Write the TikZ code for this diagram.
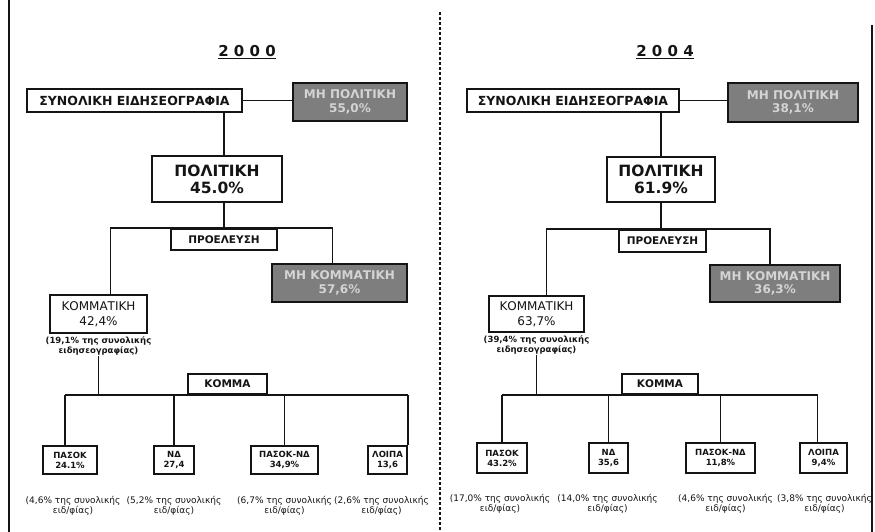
\documentclass[tikz,border=0pt]{standalone}
\usepackage{fontspec}
\setmainfont{DejaVu Sans}
\usepackage{tikz}
\usetikzlibrary{positioning,calc}
\definecolor{scanink}{HTML}{141414}
\definecolor{scangrey}{HTML}{7E7E7E}
\definecolor{scanpale}{HTML}{D4D4D4}
\tikzset{
  box/.style   = {rectangle, draw=scanink, line width=2pt, fill=white, align=center,
                  inner sep=1pt, text=scanink},
  dark/.style  = {box, fill=scangrey, text=scanpale},
  head/.style  = {font=\fontsize{12.5}{14}\selectfont\bfseries},
  big/.style   = {font=\fontsize{15.5}{17}\selectfont\bfseries},
  mid/.style   = {font=\fontsize{12}{13.5}\selectfont\bfseries},
  tag/.style   = {font=\fontsize{10.5}{12}\selectfont\bfseries},
  plain/.style = {font=\fontsize{12}{15}\selectfont},
  small/.style = {font=\fontsize{8.5}{10}\selectfont\bfseries},
  yearlbl/.style = {font=\fontsize{15}{17}\selectfont\bfseries, text=scanink},
  note/.style  = {align=center, inner sep=1pt, text=scanink,
                  font=\fontsize{8.5}{10}\selectfont\bfseries},
  sub/.style   = {align=center, inner sep=1pt, text=scanink,
                  font=\fontsize{9}{10.5}\selectfont},
  wire/.style  = {draw=scanink, line width=1.9pt},
  rule/.style  = {draw=scanink, line width=2.6pt},
  split/.style = {draw=scanink, line width=1.6pt, dash pattern=on 3pt off 2pt},
}
\begin{document}
\begin{tikzpicture}[x=1pt, y=-1pt]
\useasboundingbox (0,0) rectangle (875,532);
% page rules
\draw[rule] (9,0) -- (9,532);
\draw[rule] (872,25) -- (872,532);
\draw[split] (440,12) -- (440,532);

% ---- 2000 ----
\node[yearlbl] (yr0) at (247,52) {\underline{2 0 0 0}};
\node[box, head, minimum width=215, minimum height=23] (tot0) at (134.5,100.5) {ΣΥΝΟΛΙΚΗ ΕΙΔΗΣΕΟΓΡΑΦΙΑ};
\node[dark, mid, minimum width=114, minimum height=38] (npol0) at (350,102) {ΜΗ ΠΟΛΙΤΙΚΗ\\55,0\%};
\node[box, big, minimum width=130, minimum height=46] (pol0) at (217,179) {ΠΟΛΙΤΙΚΗ\\45.0\%};
\node[box, tag, minimum width=106, minimum height=21] (orig0) at (224,239.5) {ΠΡΟΕΛΕΥΣΗ};
\node[box, plain, minimum width=97, minimum height=38] (kom0) at (98.5,314) {ΚΟΜΜΑΤΙΚΗ\\42,4\%};
\node[note, below=1pt of kom0] (komnote0) {(19,1\% της συνολικής\\ειδησεογραφίας)};
\node[dark, mid, minimum width=135, minimum height=38] (nkom0) at (339.5,283) {ΜΗ ΚΟΜΜΑΤΙΚΗ\\57,6\%};
\node[box, tag, minimum width=79, minimum height=20] (komma0) at (227.5,384) {ΚΟΜΜΑ};
\node[box, small, minimum width=54, minimum height=28] (pasok0) at (70,460) {ΠΑΣΟΚ\\24.1\%};
\node[box, small, minimum width=40, minimum height=28] (nd0) at (174,460) {ΝΔ\\27,4};
\node[box, small, minimum width=67, minimum height=28] (pn0) at (284.5,460) {ΠΑΣΟΚ-ΝΔ\\34,9\%};
\node[box, small, minimum width=39, minimum height=28] (lo0) at (387.5,460) {ΛΟΙΠΑ\\13,6};
\node[sub, below=20pt of pasok0, xshift=3pt] (pasoknote0) {(4,6\% της συνολικής\\ειδ/φίας)};
\node[sub, below=20pt of nd0] (ndnote0) {(5,2\% της συνολικής\\ειδ/φίας)};
\node[sub, below=20pt of pn0] (pnnote0) {(6,7\% της συνολικής\\ειδ/φίας)};
\node[sub, below=20pt of lo0, xshift=-6pt] (lonote0) {(2,6\% της συνολικής\\ειδ/φίας)};

\draw[wire] (tot0.east) -- (tot0.east -| npol0.west);
\draw[wire] (orig0.north |- tot0.south) -- (orig0.north |- pol0.north);
\draw[wire] (orig0.north |- pol0.south) -- (orig0.north);
\draw[wire] ([xshift=12pt]kom0.north) |- (orig0.north) -| ([xshift=-7pt]nkom0.north);
\draw[wire] (komnote0.south) -- (komnote0.south |- komma0.south);
\draw[wire] ([xshift=-5pt]pasok0.north |- komma0.south) -- (lo0.north east |- komma0.south);
\draw[wire] ([xshift=-5pt]pasok0.north |- komma0.south) -- ([xshift=-5pt]pasok0.north);
\draw[wire] (nd0.north |- komma0.south) -- (nd0.north);
\draw[wire] (pn0.north |- komma0.south) -- (pn0.north);
\draw[wire] (lo0.north east |- komma0.south) -- (lo0.north east);

% ---- 2004 ----
\node[yearlbl] (yr1) at (665,52) {\underline{2 0 0 4}};
\node[box, head, minimum width=212, minimum height=23] (tot1) at (573,100.5) {ΣΥΝΟΛΙΚΗ ΕΙΔΗΣΕΟΓΡΑΦΙΑ};
\node[dark, mid, minimum width=130, minimum height=39] (npol1) at (793,102.5) {ΜΗ ΠΟΛΙΤΙΚΗ\\38,1\%};
\node[box, big, minimum width=108, minimum height=45] (pol1) at (661,179.5) {ΠΟΛΙΤΙΚΗ\\61.9\%};
\node[box, tag, minimum width=87, minimum height=22] (orig1) at (662.5,241) {ΠΡΟΕΛΕΥΣΗ};
\node[box, plain, minimum width=95, minimum height=36] (kom1) at (536.5,314) {ΚΟΜΜΑΤΙΚΗ\\63,7\%};
\node[note, below=1pt of kom1] (komnote1) {(39,4\% της συνολικής\\ειδησεογραφίας)};
\node[dark, mid, minimum width=130, minimum height=37] (nkom1) at (775,283.5) {ΜΗ ΚΟΜΜΑΤΙΚΗ\\36,3\%};
\node[box, tag, minimum width=76, minimum height=20] (komma1) at (660,384) {ΚΟΜΜΑ};
\node[box, small, minimum width=50, minimum height=30] (pasok1) at (502,458) {ΠΑΣΟΚ\\43.2\%};
\node[box, small, minimum width=39, minimum height=30] (nd1) at (608.5,458) {ΝΔ\\35,6};
\node[box, small, minimum width=69, minimum height=30] (pn1) at (720.5,458) {ΠΑΣΟΚ-ΝΔ\\11,8\%};
\node[box, small, minimum width=47, minimum height=30] (lo1) at (823.5,458) {ΛΟΙΠΑ\\9,4\%};
\node[sub, below=19pt of pasok1, xshift=-2pt] (pasoknote1) {(17,0\% της συνολικής\\ειδ/φίας)};
\node[sub, below=19pt of nd1, xshift=-1pt] (ndnote1) {(14,0\% της συνολικής\\ειδ/φίας)};
\node[sub, below=19pt of pn1, xshift=5pt] (pnnote1) {(4,6\% της συνολικής\\ειδ/φίας)};
\node[sub, below=19pt of lo1, xshift=1pt] (lonote1) {(3,8\% της συνολικής\\ειδ/φίας)};

\draw[wire] (tot1.east) -- (tot1.east -| npol1.west);
\draw[wire] (pol1.north |- tot1.south) -- (pol1.north);
\draw[wire] (pol1.south) -- (pol1.south |- orig1.north);
\draw[wire] ([xshift=10pt]kom1.north) |- (orig1.north) -| ([xshift=-5pt]nkom1.north);
\draw[wire] (komnote1.south) -- (komnote1.south |- komma1.south);
\draw[wire] (pasok1.north |- komma1.south) -- ([xshift=-6pt]lo1.north |- komma1.south);
\draw[wire] (pasok1.north |- komma1.south) -- (pasok1.north);
\draw[wire] (nd1.north |- komma1.south) -- (nd1.north);
\draw[wire] (pn1.north |- komma1.south) -- (pn1.north);
\draw[wire] ([xshift=-6pt]lo1.north |- komma1.south) -- ([xshift=-6pt]lo1.north);
\end{tikzpicture}
\end{document}
